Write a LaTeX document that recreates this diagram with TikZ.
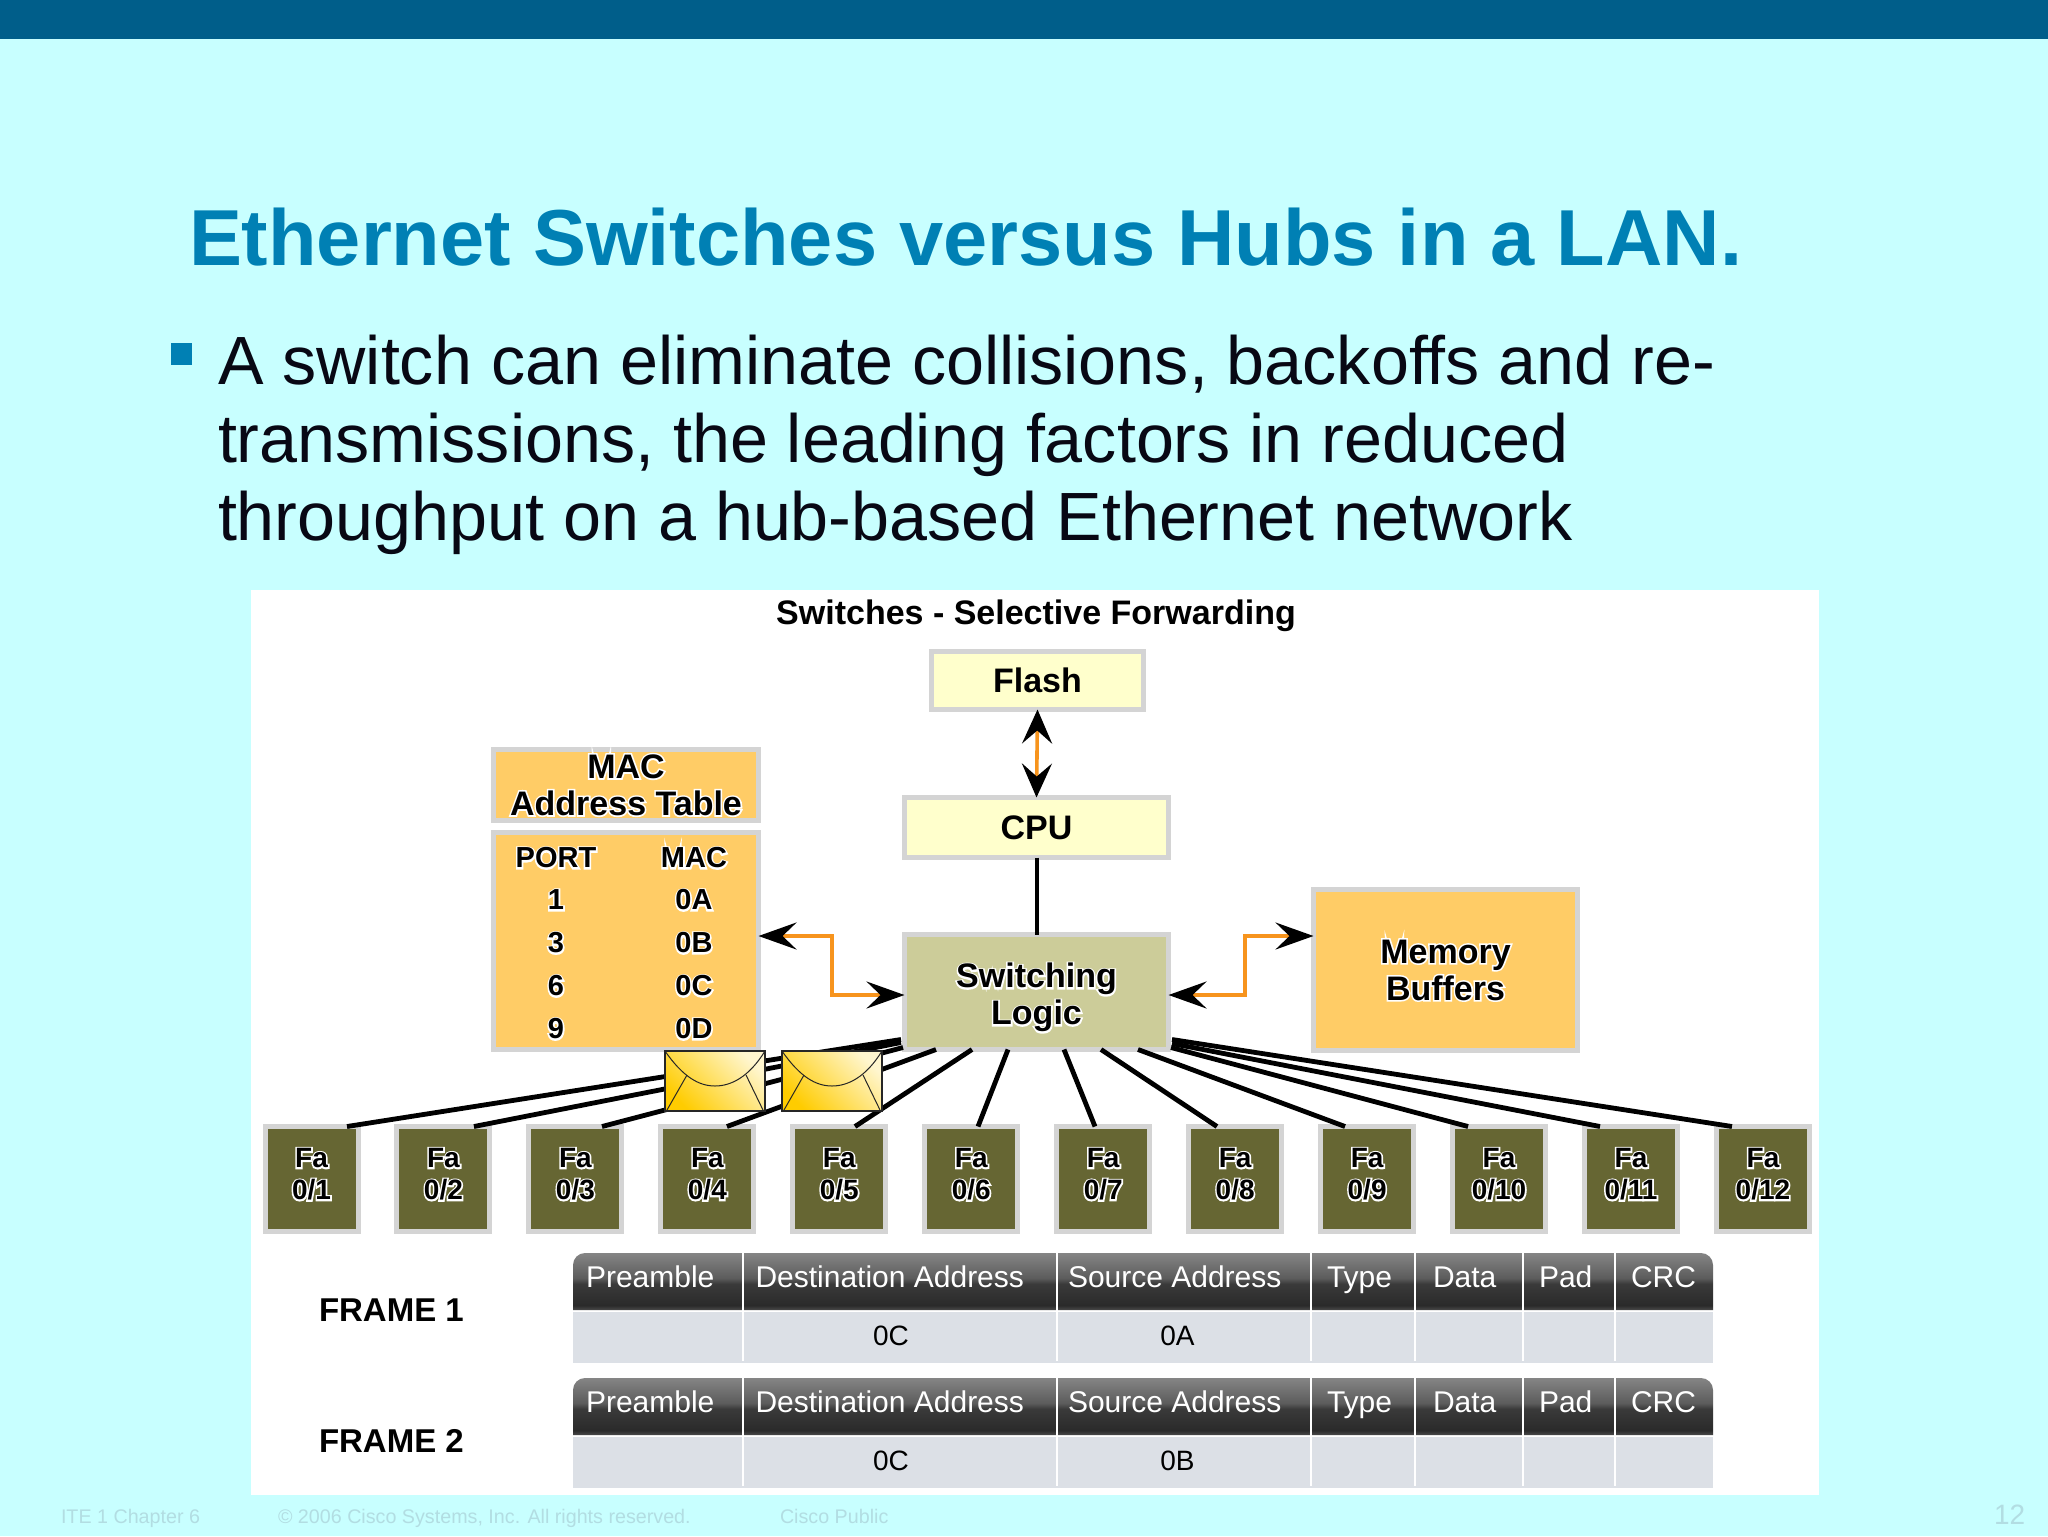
\documentclass[tikz,border=0pt]{standalone}
\usepackage{fontspec}
\setmainfont{Liberation Sans}
\usetikzlibrary{arrows.meta,calc}
\definecolor{bgc}{HTML}{C8FFFF}
\definecolor{band}{HTML}{005E8A}
\definecolor{titlec}{HTML}{0080B4}
\definecolor{bodyc}{HTML}{080814}
\definecolor{edgec}{HTML}{D4D4D4}
\definecolor{paley}{HTML}{FFFFCC}
\definecolor{orangeb}{HTML}{FFCC66}
\definecolor{olivel}{HTML}{CCCC99}
\definecolor{olived}{HTML}{666633}
\definecolor{wirec}{HTML}{F7941D}
\definecolor{cellc}{HTML}{DCE0E6}
\definecolor{footc}{HTML}{B2DDE2}
\definecolor{envA}{HTML}{FFCC00}
\definecolor{envB}{HTML}{FFD21A}
\definecolor{envC}{HTML}{FFF6CF}
\definecolor{hA}{HTML}{858585}
\definecolor{hB}{HTML}{5C5C5C}
\definecolor{hC}{HTML}{3A3A3A}
\definecolor{hD}{HTML}{2A2A2A}
\definecolor{hE}{HTML}{4A4A4A}
\pgfdeclareverticalshading{hdrshade}{100bp}{color(0bp)=(hE);color(25bp)=(hE);color(29bp)=(hD);color(48bp)=(hC);color(53bp)=(hB);color(75bp)=(hA);color(100bp)=(hA)}
\newcommand{\halo}[1]{\leavevmode\rlap{\special{pdf:code 1 Tr 1.6 w 1 1 1 RG}#1\special{pdf:code 0 Tr}}#1}
\tikzset{
  x=0.5pt,y=-0.5pt,
  every node/.style={inner sep=0pt,outer sep=0pt},
  boxsty/.style={draw=edgec,line width=2.5pt,align=center},
  lbl/.style={font=\fontsize{17}{17}\selectfont\bfseries,align=center},
  rowlbl/.style={font=\fontsize{14.5}{15}\selectfont\bfseries},
  falbl/.style={font=\fontsize{14}{16}\selectfont\bfseries,align=center},
  hdrtxt/.style={font=\fontsize{15}{15}\selectfont,text=white,anchor=base west},
  celltxt/.style={font=\fontsize{14}{14}\selectfont},
  foot/.style={font=\fontsize{9.85}{10}\selectfont,text=footc,anchor=base west},
  wire/.style={line width=2.4pt,black},
  duparrow/.style={draw=wirec,line width=1.8pt,
    {Stealth[length=19pt,width=13.5pt,inset=7pt,black]}-{Stealth[length=19pt,width=13.5pt,inset=7pt,black]}},
  vertarrow/.style={draw=wirec,line width=1.8pt,
    {Stealth[length=17pt,width=15pt,inset=6.5pt,black]}-{Stealth[length=17pt,width=15pt,inset=6.5pt,black]}},
}
\begin{document}
\begin{tikzpicture}
\useasboundingbox (0,0) rectangle (2048,1536);
\fill[bgc] (0,0) rectangle (2048,1536);
\fill[band] (0,0) rectangle (2048,39);
\node[anchor=base west,text=titlec,font=\fontsize{39.7}{46}\selectfont\bfseries] (title) at (189,265) {Ethernet Switches versus Hubs in a LAN.};
\fill[titlec] (171,343) rectangle (192,365);
\node[anchor=base west,text=bodyc,align=left,font=\fontsize{34.13}{39}\selectfont] (body) at (218,540.5) {A switch can eliminate collisions, backoffs and re-\\transmissions, the leading factors in reduced\\throughput on a hub-based Ethernet network};
\fill[white] (251,590) rectangle (1819,1495);
\node[font=\fontsize{17}{17}\selectfont\bfseries] (dtitle) at (1036,616) {Switches - Selective Forwarding};
% boxes
\node[boxsty,fill=paley,minimum width=106pt,minimum height=29pt,font=\fontsize{17}{17}\selectfont\bfseries] (flash) at (1037.5,680.5) {Flash};
\node[boxsty,fill=paley,minimum width=132pt,minimum height=30pt,font=\fontsize{17}{17}\selectfont\bfseries] (cpu) at (1036.5,827.5) {CPU};
\node[boxsty,fill=olivel,minimum width=132pt,minimum height=57.5pt,lbl,font=\fontsize{17}{18.5}\selectfont\bfseries] (sw) at (1036.5,992) {\rule{0pt}{18pt}\halo{Switching}\\\halo{Logic}};
\node[boxsty,fill=orangeb,minimum width=132.5pt,minimum height=35.5pt,lbl,font=\fontsize{17}{18.5}\selectfont\bfseries] (machead) at (626,785) {\halo{MAC}\\\halo{Address Table}};
\node[boxsty,fill=orangeb,minimum width=132.5pt,minimum height=108.5pt] (mactab) at (626,941) {};
\node[boxsty,fill=orangeb,minimum width=132pt,minimum height=80.5pt,lbl,font=\fontsize{17}{18.5}\selectfont\bfseries] (mem) at (1445.5,970) {\halo{Memory}\\\halo{Buffers}};
% table
\node[rowlbl] (colport) at (556,858) {\halo{PORT}};
\node[rowlbl] (colmac) at (694,858) {\halo{MAC}};
\foreach \ry/\p/\m in {900/1/0A,943/3/0B,986/6/0C,1029/9/0D}{
  \node[rowlbl] (p\p) at (556,\ry) {\halo{\p}};
  \node[rowlbl] (m\p) at (694,\ry) {\halo{\m}};
}
% ports
\foreach \i in {1,...,12}{
  \node[boxsty,fill=olived,minimum width=46.5pt,minimum height=52.5pt,falbl] (fa\i) at ({311.5+131.95*(\i-1)},1179) {\halo{Fa}\\\rule[-5pt]{0pt}{5pt}\halo{0/\i}};
}
% connectors
\draw[line width=2pt] (cpu.south) -- (sw.north);
\draw[vertarrow] (flash.south) -- (cpu.north);
\draw[duparrow] (mactab.east |- 0,936) -- (832,936) -- (832,995) -- (sw.west |- 0,995);
\draw[duparrow] (sw.east |- 0,995) -- (1245,995) -- (1245,936) -- (mem.west |- 0,936);
\foreach \i/\dx/\dy/\ex in {1/-135.5/-10/35.5,2/-135.5/-7/30.5,3/-133.5/-2/26.6,4/-100.5/0/19.6,5/-64.5/0/15.7,6/-28.5/0/6.75,7/27.5/0/-8.2,8/64.5/0/-18.2,9/101.5/0/-22.1,10/134.5/-2/-31,11/135.5/-6/-31,12/135.5/-10/-31}{
  \draw[wire] ($(sw.south)+(\dx,\dy)$) -- ($(fa\i.north)+(\ex,0)$);
}
% envelopes
\foreach \ex in {665,782}{
  \begin{scope}[shift={(\ex,1051)}]
    \shade[left color=envA,middle color=envB,right color=envC,shading angle=135] (0,0) rectangle (100,60);
    \draw[black!85,line width=0.6pt] (0,0) rectangle (100,60);
    \draw[black!85,line width=0.5pt] (0,0) .. controls (18,26) and (34,35) .. (50,35) .. controls (66,35) and (84,26) .. (100,0);
    \draw[black!85,line width=0.5pt] (22,24) -- (2,59) (81,24) -- (98,59);
  \end{scope}
}
% frames
\node[font=\fontsize{16.5}{17}\selectfont\bfseries,anchor=west] (frame1) at (319,1310) {FRAME 1};
\node[font=\fontsize{16.5}{17}\selectfont\bfseries,anchor=west] (frame2) at (319,1441) {FRAME 2};
\foreach \fy/\f/\dst/\src in {1253/a/0C/0A,1378/b/0C/0B}{
  \fill[cellc] (573,\fy+59) rectangle (1713,\fy+110);
  \shade[shading=hdrshade] (573,\fy+57) [rounded corners=6pt] -- (573,\fy) -- (1713,\fy) [sharp corners] -- (1713,\fy+57) -- cycle;
  \foreach \dx in {743,1057,1311,1415,1523,1615}{
    \draw[white,line width=1pt] (\dx,\fy) -- (\dx,\fy+108);
  }
  \node[hdrtxt] (pre\f) at (586,\fy+34) {Preamble};
  \node[hdrtxt] (dst\f) at (755.5,\fy+34) {Destination Address};
  \node[hdrtxt] (src\f) at (1068,\fy+34) {Source Address};
  \node[hdrtxt] (typ\f) at (1327,\fy+34) {Type};
  \node[hdrtxt] (dat\f) at (1433,\fy+34) {Data};
  \node[hdrtxt] (pad\f) at (1539,\fy+34) {Pad};
  \node[hdrtxt] (crc\f) at (1631,\fy+34) {CRC};
  \node[celltxt] (dv\f) at (891,\fy+83) {\dst};
  \node[celltxt] (sv\f) at (1177.5,\fy+83) {\src};
}
% footer
\node[foot] (f1) at (61,1523) {ITE 1 Chapter 6};
\node[foot] (f2) at (278,1523) {© 2006 Cisco Systems, Inc. All rights reserved.};
\node[foot] (f3) at (780,1523) {Cisco Public};
\node[foot,font=\fontsize{14}{14}\selectfont] (f4) at (1994,1524) {12};
\end{tikzpicture}
\end{document}
